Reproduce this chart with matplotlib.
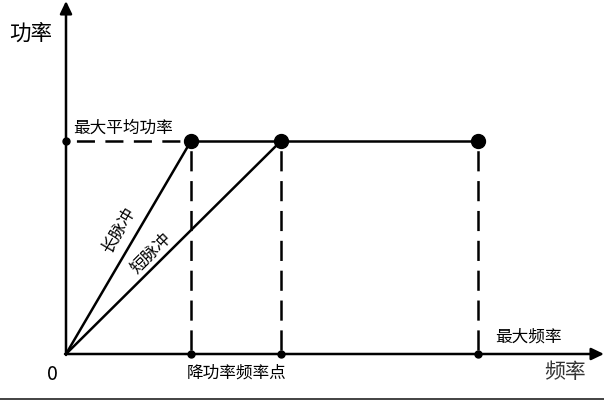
import matplotlib.pyplot as plt
import matplotlib as mpl

mpl.rcParams['font.family'] = ['Noto Sans CJK SC', 'DejaVu Sans']
mpl.rcParams['lines.scale_dashes'] = False

# 数据（单位任意，1 单位 = 100 像素）
f_long = 1.25      # 长脉冲降功率频率点
f_short = 2.15     # 短脉冲降功率频率点
f_max = 4.12       # 最大频率
p_max = 2.13       # 最大平均功率
drop_points = [f_long, f_short, f_max]

fig = plt.figure(figsize=(6.04, 4), dpi=100)
ax = fig.add_axes([0, 0, 1, 1])
ax.set_xlim(-0.66, 5.38)
ax.set_ylim(-0.46, 3.54)
ax.axis('off')

lw = 1.8
h_dash = (13, (13, 7.5))     # 以空白开头
v_dash = (14.5, (14.5, 7))
head = '-|>,head_length=0.75,head_width=0.36'

# 坐标轴（带箭头）
ax.annotate('', xy=(0, 3.53), xytext=(0, -0.01),
            arrowprops=dict(arrowstyle=head, lw=lw, color='black',
                            shrinkA=0, shrinkB=0))
ax.annotate('', xy=(5.38, 0), xytext=(-0.01, 0),
            arrowprops=dict(arrowstyle=head, lw=lw, color='black',
                            shrinkA=0, shrinkB=0))

# 长脉冲 / 短脉冲 斜线
ax.plot([0, f_long], [0, p_max], color='black', lw=lw, solid_capstyle='butt')
ax.plot([0, f_short], [0, p_max], color='black', lw=lw, solid_capstyle='butt')

# 最大平均功率水平线
ax.plot([0, f_long], [p_max, p_max], color='black', lw=lw, linestyle=h_dash)
ax.plot([f_long, f_max], [p_max, p_max], color='black', lw=lw)

# 竖直虚线
for f in drop_points:
    ax.plot([f, f], [p_max, 0], color='black', lw=lw, linestyle=v_dash)

# 大圆点
ax.plot(drop_points, [p_max] * len(drop_points), 'o', color='black', ms=10)
# 小圆点
ax.plot(drop_points, [0] * len(drop_points), 'o', color='black', ms=5)
ax.plot([0], [p_max], 'o', color='black', ms=5)

# 文字
ax.text(-0.35, 3.20, '功率', fontsize=15.5, ha='center', va='center')
ax.text(-0.14, -0.21, '0', fontsize=14, ha='center', va='center')
ax.text(0.575, 2.26, '最大平均功率', fontsize=12, ha='center', va='center',
        fontweight='light')
ax.text(1.71, -0.19, '降功率频率点', fontsize=12, ha='center', va='center',
        fontweight='light')
ax.text(4.62, 0.17, '最大频率', fontsize=12, ha='center', va='center',
        fontweight='light')
ax.text(4.99, -0.18, '频率', fontsize=15, ha='center', va='center',
        color='#333333')
ax.text(0.53, 1.24, '长脉冲', fontsize=12, ha='center', va='center',
        rotation=59.6, rotation_mode='anchor', fontweight='light')
ax.text(0.85, 1.01, '短脉冲', fontsize=12, ha='center', va='center',
        rotation=44.7, rotation_mode='anchor', fontweight='light')

# 底部边线
fig.add_artist(plt.Line2D([0, 1], [0.002, 0.002], color='#222222', lw=1.2,
                          transform=fig.transFigure))

fig.savefig('out.png', dpi=100)
